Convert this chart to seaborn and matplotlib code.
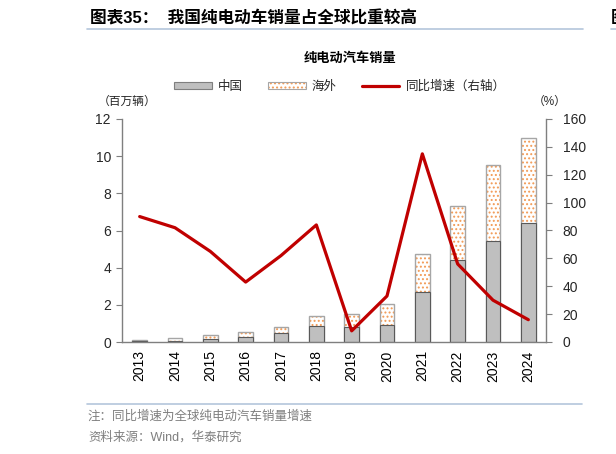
import numpy as np
import pandas as pd
import matplotlib
matplotlib.use("Agg")
import matplotlib.pyplot as plt
import seaborn as sns
from matplotlib.patches import Patch
from matplotlib.lines import Line2D
from matplotlib.colors import to_rgba

years = ["2013", "2014", "2015", "2016", "2017", "2018",
         "2019", "2020", "2021", "2022", "2023", "2024"]
china = [0.03, 0.05, 0.15, 0.27, 0.50, 0.84, 0.83, 0.92, 2.71, 4.40, 5.44, 6.39]
total = [0.13, 0.21, 0.36, 0.52, 0.79, 1.42, 1.51, 2.05, 4.72, 7.30, 9.51, 11.0]
growth = [90, 82, 65, 43, 62, 84, 8, 33, 135, 56, 30, 16]

left_ticks = [0, 2, 4, 6, 8, 10, 12]
right_ticks = [0, 20, 40, 60, 80, 100, 120, 140, 160]

sns.set_theme(style="white")
plt.rcParams["font.family"] = ["Liberation Sans", "Noto Sans CJK SC", "DejaVu Sans"]
plt.rcParams["hatch.linewidth"] = 0.9

GRAY = "#BFBFBF"
EDGE = "#A6A6A6"
ORANGE = "#F29A55"
RED = "#C00000"
AXC = "#7F7F7F"

df = pd.DataFrame({"year": years, "china": china, "total": total, "growth": growth})

fig = plt.figure(figsize=(6.16, 4.54), dpi=100)
ax = fig.add_axes([122 / 616, 1 - 342 / 454, (546 - 122) / 616, (342 - 119) / 454])

# overseas (total) bars with dotted hatch
sns.barplot(data=df, x="year", y="total", color="white", edgecolor=EDGE,
            linewidth=1.0, hatch="....", width=0.41, saturation=1, ax=ax)
for p in ax.patches:
    p._hatch_color = to_rgba(ORANGE)
    p.set_facecolor("white")
n_total = len(ax.patches)
# china bars
sns.barplot(data=df, x="year", y="china", color=GRAY, edgecolor="#595959",
            linewidth=0.8, width=0.41, saturation=1, ax=ax)
for p in ax.patches[n_total:]:
    p.set_facecolor(GRAY)

ax.set_ylim(0, 12)
ax.set_yticks(left_ticks)
ax.set_xlim(-0.5, len(years) - 0.5)
ax.set_xlabel("")
ax.set_ylabel("")
ax.set_xticks(range(len(years)))
ax.set_xticklabels(years, rotation=90, fontsize=10)
ax.set_xticks(np.arange(-0.5, len(years), 1), minor=True)
ax.tick_params(axis="x", which="major", length=0, pad=6, colors="black")
ax.tick_params(axis="x", which="minor", length=4, width=0.8, color=AXC, direction="out")
ax.tick_params(axis="y", length=4, width=0.8, color=AXC, direction="out", labelsize=10, pad=4)
for s in ["top", "right"]:
    ax.spines[s].set_visible(False)
for s in ["left", "bottom"]:
    ax.spines[s].set_color(AXC)
    ax.spines[s].set_linewidth(1.0)

ax2 = ax.twinx()
sns.lineplot(data=df, x="year", y="growth", color=RED, linewidth=2.3, ax=ax2, sort=False)
ax2.set_ylim(0, 160)
ax2.set_yticks(right_ticks)
ax2.set_ylabel("")
ax2.tick_params(axis="y", length=4, width=0.8, color=AXC, direction="out", labelsize=10, pad=8)
for s in ["top", "left", "bottom"]:
    ax2.spines[s].set_visible(False)
ax2.spines["right"].set_color(AXC)
ax2.spines["right"].set_linewidth(1.0)
ax2.set_xlim(-0.5, len(years) - 0.5)

# legend
h1 = Patch(facecolor=GRAY, edgecolor="#7F7F7F", linewidth=0.8)
h2 = Patch(facecolor="white", edgecolor=EDGE, linewidth=0.8, hatch="....")
h2._hatch_color = to_rgba(ORANGE)
h3 = Line2D([], [], color=RED, linewidth=2.3)
leg = fig.legend([h1, h2, h3], ["中国", "海外", "同比增速（右轴）"],
                 loc="center", bbox_to_anchor=(340 / 616, 1 - 87 / 454), ncol=3,
                 frameon=False, fontsize=9, handlelength=3.0, handleheight=0.5,
                 handletextpad=0.5, columnspacing=2.0)
for t in leg.get_texts():
    t.set_color("#262626")

# titles and annotations
fig.text(90 / 616, 1 - 18 / 454, "图表35：  我国纯电动车销量占全球比重较高",
         fontsize=12, fontweight="bold", ha="left", va="center", color="black")
fig.add_artist(Line2D([87 / 616, 583 / 616], [1 - 29 / 454, 1 - 29 / 454],
                      color="#B4C6DC", linewidth=1.2))
fig.add_artist(Line2D([611 / 616, 1.0], [1 - 29 / 454, 1 - 29 / 454],
                      color="#B4C6DC", linewidth=1.2))
fig.text(611 / 616, 1 - 18 / 454, "图", fontsize=12, fontweight="bold",
         ha="left", va="center", color="black")
fig.text(350 / 616, 1 - 59 / 454, "纯电动汽车销量", fontsize=9.5, fontweight="bold",
         ha="center", va="center", color="black")
fig.text(98 / 616, 1 - 102 / 454, "（百万辆）", fontsize=8.5, ha="left", va="center", color="#262626")
fig.text(533 / 616, 1 - 102 / 454, "（%）", fontsize=8.5, ha="left", va="center", color="#262626")

fig.add_artist(Line2D([87 / 616, 582 / 616], [1 - 404 / 454, 1 - 404 / 454],
                      color="#B4C6DC", linewidth=1.2))
fig.text(88 / 616, 1 - 417 / 454, "注：同比增速为全球纯电动汽车销量增速",
         fontsize=9, ha="left", va="center", color="#7F7F7F")
fig.text(88 / 616, 1 - 437 / 454, "资料来源：Wind，华泰研究",
         fontsize=9, ha="left", va="center", color="#7F7F7F")

fig.savefig("out.png", dpi=100)
